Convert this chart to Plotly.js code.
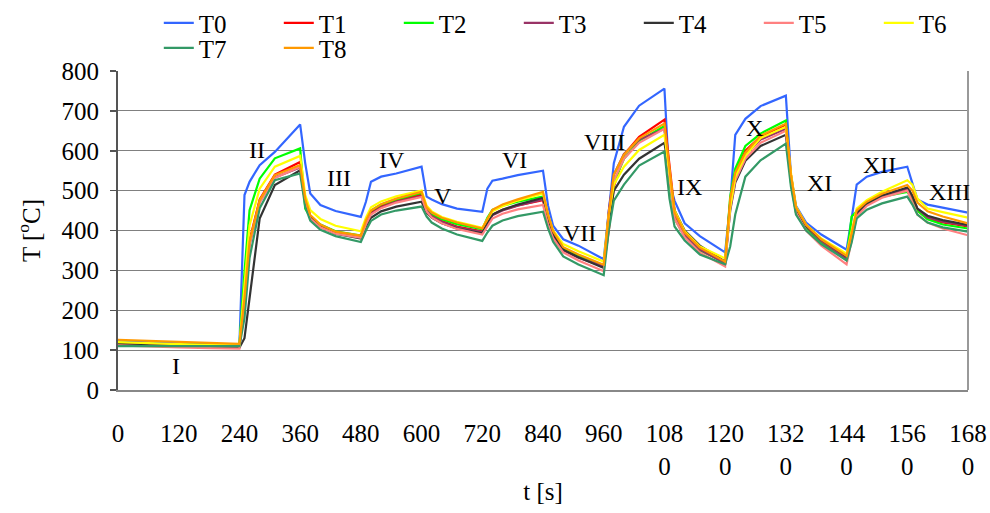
<!DOCTYPE html>
<html>
<head>
<meta charset="utf-8">
<script src="https://cdn.plot.ly/plotly-3.0.1.min.js"></script>
<style>html,body{margin:0;padding:0;background:#fff;}#chart{width:990px;height:513px;}</style>
</head>
<body>
<div id="chart"></div>
<script>
// time [s]
const time = [0,60,120,180,240,
  250,260,280,310,360,
  370,380,400,430,480,
  490,500,520,550,600,
  610,620,640,670,720,
  730,740,760,790,840,
  850,860,880,910,960,
  970,980,1000,1030,1080,
  1090,1100,1120,1150,1200,
  1210,1220,1240,1270,1320,
  1330,1340,1360,1390,1440,
  1450,1460,1480,1510,1560,
  1570,1580,1600,1630,1680];

const T0 = [122,119,117,115,114, 489,522,564,597,666, 569,493,464,449,434, 472,522,535,543,560, 485,478,466,455,447, 505,525,530,539,550, 462,412,378,362,328, 446,569,660,713,756, 520,475,418,386,345, 470,640,680,712,738, 540,462,420,390,352, 430,515,535,547,560, 520,478,465,458,445];
const T1 = [118,115,113,111,110, 235,375,478,540,572, 478,437,413,396,386, 420,445,462,476,490, 452,438,424,410,398, 420,440,452,463,476, 425,390,354,335,308, 400,510,590,635,678, 560,450,395,355,318, 470,545,600,636,665, 540,455,410,375,330, 380,440,465,484,502, 475,450,430,420,410];
const T2 = [115,114,114,114,115, 297,451,530,581,606, 455,434,415,398,387, 425,450,465,478,494, 455,442,428,416,403, 432,452,462,472,485, 430,392,355,337,310, 440,520,580,625,662, 520,430,385,350,320, 485,555,612,643,676, 520,445,405,370,328, 435,448,468,485,497, 480,450,428,415,405];
const T3 = [117,114,112,110,108, 225,365,472,533,558, 470,432,410,394,383, 418,442,458,472,486, 450,436,422,408,396, 418,438,450,462,478, 425,388,350,332,310, 450,540,592,628,655, 540,440,390,352,318, 470,535,590,628,655, 535,455,410,374,330, 385,445,468,487,505, 485,455,433,422,412];
const T4 = [116,112,110,108,106, 130,230,430,514,551, 475,435,410,392,380, 410,432,448,460,472, 445,432,418,405,393, 420,440,452,465,482, 430,392,352,333,306, 420,500,540,580,620, 540,450,400,362,322, 450,520,575,612,640, 530,455,412,378,335, 385,445,468,488,508, 488,455,437,426,414];
const T5 = [112,109,107,105,104, 225,365,470,532,560, 468,430,408,392,382, 415,440,456,470,484, 448,433,418,404,390, 410,430,442,453,464, 415,380,345,325,298, 440,525,580,620,655, 530,430,383,345,310, 455,525,580,620,650, 525,445,400,362,315, 375,435,462,482,500, 470,440,420,405,388];
const T6 = [120,117,115,113,112, 263,413,505,560,587, 489,451,429,412,398, 432,458,473,486,500, 462,448,434,422,407, 428,448,461,475,493, 440,400,366,348,322, 440,515,560,602,640, 550,450,398,360,330, 460,535,588,632,660, 545,460,415,380,342, 400,455,476,497,526, 515,480,455,446,432];
const T7 = [110,110,110,110,110, 180,331,456,526,543, 460,425,402,386,371, 400,424,440,450,460, 435,420,405,390,374, 395,412,425,436,447, 405,372,335,315,288, 400,475,515,563,598, 480,410,375,340,315, 360,440,535,576,618, 510,440,400,366,325, 370,430,452,468,485, 465,440,420,408,397];
const T8 = [126,123,120,118,116, 230,372,476,539,564, 480,439,415,397,387, 425,450,466,480,497, 458,445,432,420,405, 430,452,465,478,497, 440,398,358,340,314, 440,540,590,631,668, 555,445,395,357,322, 480,545,595,638,668, 540,458,414,378,336, 390,450,472,492,514, 500,470,448,435,418];

const seriesNames = ['T0','T1','T2','T3','T4','T5','T6','T7','T8'];
const seriesData = [T0,T1,T2,T3,T4,T5,T6,T7,T8];
const seriesColors = ['#3366ff','#ff0000','#00ff00','#993366','#333333','#ff8080','#ffff00','#339966','#ff9900'];
const seriesLegend = ['legend','legend','legend','legend','legend','legend','legend','legend2','legend2'];

const xTickVals = [0,120,240,360,480,600,720,840,960,1080,1200,1320,1440,1560,1680];
const xTickText = ['0','120','240','360','480','600','720','840','960','108<br>0','120<br>0','132<br>0','144<br>0','156<br>0','168<br>0'];

// stage labels
const stageLabels = ['I','II','III','IV','V','VI','VII','VIII','IX','X','XI','XII','XIII'];
const stageT = [115,275,436,541,642,784,912,962,1130,1258,1387,1505,1643];
const stageY = [60,601,531,576,486,576,393,622,509,657,519,564,496];

const FONT = 'Liberation Serif';

const traces = seriesNames.map((n,i)=>({
  x: time, y: seriesData[i], name: n, type: 'scatter', mode: 'lines',
  legend: seriesLegend[i],
  line: {color: seriesColors[i], width: 2.2}
}));

const annotations = stageLabels.map((s,i)=>({
  x: stageT[i], y: stageY[i], xref: 'x', yref: 'y', text: s, showarrow: false,
  font: {family: FONT, size: 24, color: '#000'}
}));

const legendCommon = {orientation: 'h', xanchor: 'left', yanchor: 'top',
  entrywidth: 75, entrywidthmode: 'pixels', font: {family: FONT, size: 25, color: '#000'},
  tracegroupgap: 0, itemwidth: 30, bgcolor: 'rgba(0,0,0,0)'};

const layout = {
  width: 990, height: 513,
  margin: {l: 118, r: 22, t: 71, b: 123, autoexpand: false},
  paper_bgcolor: '#fff', plot_bgcolor: '#fff',
  font: {family: FONT, size: 25, color: '#000'},
  showlegend: true,
  legend: Object.assign({}, legendCommon, {x: 0.048, y: 1.222}),
  legend2: Object.assign({}, legendCommon, {x: 0.048, y: 1.144}),
  xaxis: {range: [0,1680], tickmode: 'array', tickvals: xTickVals, ticktext: xTickText,
    showgrid: false, zeroline: false, showline: true, linecolor: '#888', linewidth: 2,
    ticks: '', ticklabelstandoff: 20, tickangle: 0, automargin: true,
    tickfont: {family: FONT, size: 25},
    title: {text: 't [s]', font: {family: FONT, size: 25}, standoff: 4}},
  yaxis: {range: [0,800], dtick: 100, tick0: 0, showgrid: true, gridcolor: '#808080', gridwidth: 1,
    zeroline: false, showline: true, linecolor: '#555', linewidth: 2, automargin: true,
    ticks: 'outside', ticklen: 6, tickcolor: '#555', tickwidth: 1.5, ticklabelstandoff: 6,
    tickfont: {family: FONT, size: 25},
    title: {text: 'T [<sup>o</sup>C]', font: {family: FONT, size: 25}, standoff: 14}},
  shapes: [
    {type: 'line', xref: 'paper', yref: 'paper', x0: 1, x1: 1, y0: 0, y1: 1, line: {color: '#999', width: 2}}
  ],
  annotations: annotations
};

Plotly.newPlot('chart', traces, layout, {displayModeBar: false, staticPlot: true});
</script>
</body>
</html>
